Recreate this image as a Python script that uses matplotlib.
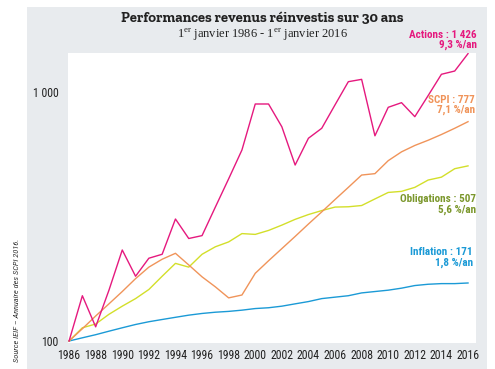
import matplotlib
matplotlib.use("Agg")
import matplotlib.pyplot as plt
from matplotlib.patches import Rectangle
from matplotlib.ticker import FixedLocator, FixedFormatter, NullLocator

plt.rcParams["mathtext.fontset"] = "custom"
plt.rcParams["mathtext.rm"] = "Liberation Serif"

NARROW = ["Roboto Condensed", "DejaVu Sans"]
SLAB = ["Zilla Slab", "DejaVu Serif"]
SERIF = ["Liberation Serif", "DejaVu Serif"]

years = [1986, 1987, 1988, 1989, 1990, 1991, 1992, 1993, 1994, 1995, 1996,
         1997, 1998, 1999, 2000, 2001, 2002, 2003, 2004, 2005, 2006,
         2007, 2008, 2009, 2010, 2011, 2012, 2013, 2014, 2015, 2016]

actions = [100, 152, 114, 160, 232, 182, 215, 223, 309, 258, 265,
           345, 448, 585, 895, 895, 725, 509, 652, 715, 888,
           1100, 1124, 667, 868, 906, 796, 967, 1178, 1214, 1426]

scpi = [100, 112, 126, 141, 158, 178, 198, 213, 225, 202, 181,
        165, 149, 153, 187, 210, 235, 263, 295, 330, 370,
        414, 464, 470, 530, 575, 610, 640, 675, 715, 760]

obligations = [100, 113, 117, 128, 138, 148, 161, 182, 205, 198, 223,
               239, 250, 270, 268, 278, 292, 308, 322, 334, 345,
               346, 350, 372, 395, 399, 414, 443, 455, 492, 505]

inflation = [100, 103, 106, 109.5, 113, 116.5, 119.5, 122, 124.5, 127, 129,
             130.5, 131.5, 133, 135, 136, 138, 141, 144, 148, 150,
             152, 156, 158, 160, 163, 167, 169, 170, 170, 171]

tick_years = [1986, 1988, 1990, 1992, 1994, 1996, 1998, 2000, 2002, 2004,
              2006, 2008, 2010, 2012, 2014, 2016]

c_actions = "#e5197e"
c_scpi = "#f0945a"
c_oblig = "#d3df2a"
c_oblig_txt = "#7b972c"
c_infl = "#1b9ad6"
c_grey = "#e8ebee"

W, H = 495, 369
fig = plt.figure(figsize=(W / 100, H / 100), dpi=100)
fig.patch.set_facecolor("white")

# grey panel behind everything
fig.patches.append(Rectangle((27 / W, 0), 460 / W, 362 / H,
                             transform=fig.transFigure, facecolor=c_grey,
                             edgecolor="none", zorder=-10))

ax = fig.add_axes([68 / W, (H - 343) / H, 408 / W, 290 / H])
ax.set_facecolor("white")
ax.set_zorder(1)

lw = 1.0
ax.plot(years, inflation, color=c_infl, lw=lw)
ax.plot(years, obligations, color=c_oblig, lw=lw)
ax.plot(years, scpi, color=c_scpi, lw=lw)
ax.plot(years, actions, color=c_actions, lw=lw)

ax.set_yscale("log")
ax.set_xlim(1985.92, 2016.6)
ax.set_ylim(10 ** (2 - 2 / 249), 10 ** (2 + 288 / 249))

ax.xaxis.set_major_locator(FixedLocator(tick_years))
ax.xaxis.set_major_formatter(FixedFormatter([str(y) for y in tick_years]))
ax.yaxis.set_major_locator(FixedLocator([100, 1000]))
ax.yaxis.set_major_formatter(FixedFormatter(["100", "1 000"]))
ax.yaxis.set_minor_locator(NullLocator())
ax.tick_params(length=0, labelsize=8.5, labelcolor="#222222")
ax.tick_params(axis="x", pad=4)
ax.tick_params(axis="y", pad=7)
for lab in ax.get_xticklabels() + ax.get_yticklabels():
    lab.set_family(NARROW)

for s in ax.spines.values():
    s.set_visible(False)

# titles
fig.text(262 / W, 1 - 19 / H, "Performances revenus réinvestis sur 30 ans",
         ha="center", va="center", fontsize=10.5, fontweight="bold",
         family=SLAB, color="#222222")
fig.text(262 / W, 1 - 35 / H,
         r"1$^{\rm er}$ janvier 1986 - 1$^{\rm er}$ janvier 2016",
         ha="center", va="center", fontsize=9,
         family=SERIF, color="#222222")

# series labels
labels = [
    ("Actions : 1 426\n9,3 %/an", 477, 40, c_actions),
    ("SCPI : 777\n7,1 %/an", 475, 105, c_scpi),
    ("Obligations : 507\n5,6 %/an", 476, 204.5, c_oblig_txt),
    ("Inflation : 171\n1,8 %/an", 473, 257.5, c_infl),
]
for txt, x, y, col in labels:
    fig.text(x / W, 1 - y / H, txt, ha="right", va="center",
             multialignment="right", fontsize=8, fontweight="bold",
             family=NARROW, color=col, linespacing=1.05, zorder=3)

# source
fig.text(17 / W, 1 - 300 / H, "Source IEIF – Annuaire des SCPI 2016.",
         rotation=90, ha="center", va="center", fontsize=6,
         style="italic", family=NARROW, color="#333333")

fig.savefig("out.png", dpi=100)
